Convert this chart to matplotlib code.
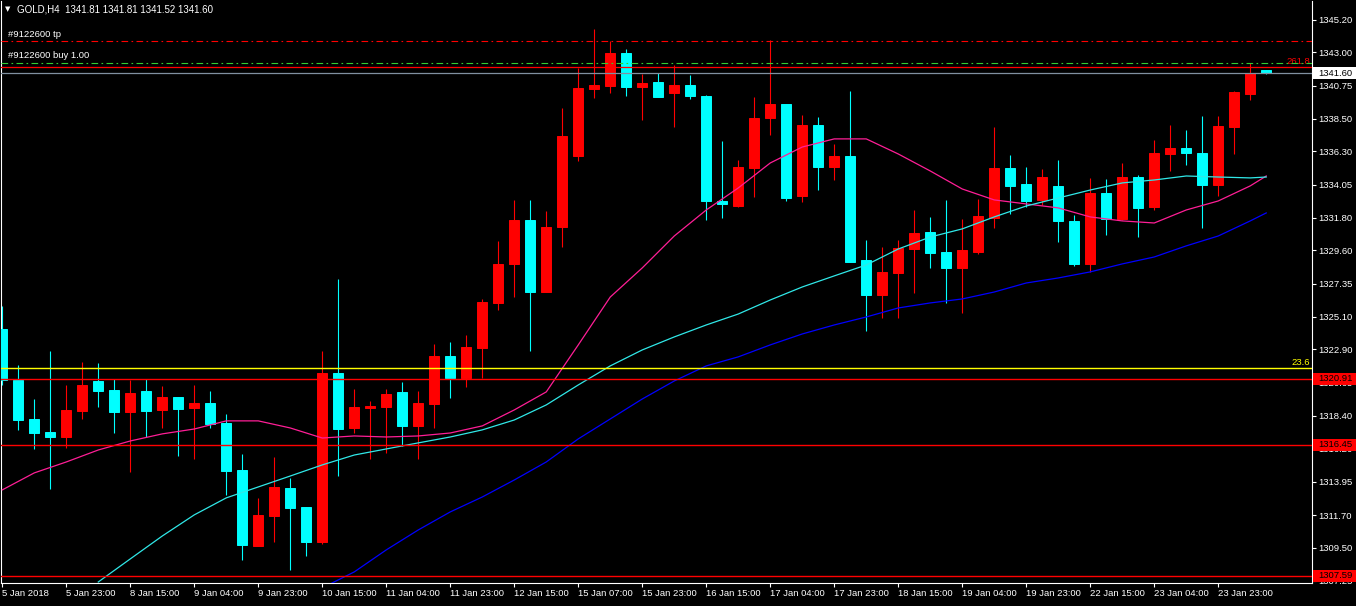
import matplotlib
matplotlib.use("Agg")
import matplotlib.pyplot as plt
import matplotlib.transforms as mtransforms
from matplotlib.patches import Rectangle
import numpy as np

plt.rcParams['font.family'] = ['Liberation Sans', 'DejaVu Sans']

# ---------------- data ----------------
header_text = "GOLD,H4  1341.81 1341.81 1341.52 1341.60"

opens = [1324.29, 1320.84, 1318.20, 1317.32, 1317.00, 1318.74, 1320.77, 1320.16, 1318.69, 1320.09,
         1318.83, 1319.69, 1318.97, 1319.28, 1317.93, 1314.75, 1309.63, 1311.66, 1313.53, 1312.25,
         1309.90, 1321.31, 1317.61, 1318.94, 1319.01, 1320.03, 1317.73, 1319.24, 1322.46, 1320.97,
         1323.02, 1326.07, 1328.71, 1331.66, 1326.81, 1331.21, 1336.02, 1340.55, 1340.75, 1342.96,
         1340.68, 1341.00, 1340.28, 1340.80, 1340.05, 1332.97, 1332.63, 1335.20, 1338.59, 1339.51,
         1333.31, 1338.09, 1335.27, 1336.00, 1328.96, 1326.61, 1328.10, 1329.72, 1330.85, 1329.50,
         1328.44, 1329.52, 1331.82, 1335.18, 1334.10, 1333.04, 1333.97, 1331.60, 1328.71, 1333.49,
         1331.75, 1334.57, 1332.56, 1336.15, 1336.54, 1336.20, 1334.05, 1337.98, 1340.21, 1341.81]

highs = [1325.85, 1321.85, 1319.55, 1322.80, 1320.50, 1322.06, 1321.99, 1320.91, 1320.84, 1320.91,
         1320.43, 1319.69, 1320.50, 1320.09, 1318.54, 1315.83, 1312.86, 1315.63, 1314.21, 1312.25,
         1322.80, 1327.67, 1320.23, 1319.42, 1320.23, 1320.70, 1320.09, 1323.27, 1323.41, 1323.88,
         1326.32, 1330.24, 1333.02, 1333.02, 1332.27, 1339.24, 1341.95, 1344.59, 1343.78, 1343.23,
         1341.54, 1341.61, 1342.15, 1341.48, 1340.12, 1337.01, 1335.72, 1339.99, 1343.84, 1339.51,
         1338.77, 1338.63, 1336.81, 1340.39, 1330.31, 1329.84, 1330.31, 1332.34, 1331.87, 1333.02,
         1331.73, 1333.09, 1337.96, 1336.06, 1335.25, 1335.12, 1335.72, 1332.00, 1334.51, 1334.44,
         1335.52, 1334.71, 1337.08, 1338.09, 1337.75, 1338.70, 1338.70, 1340.39, 1342.27, 1341.81]

lows = [1320.50, 1317.48, 1316.17, 1313.46, 1316.26, 1318.20, 1319.01, 1317.25, 1314.63, 1316.98,
        1317.61, 1315.72, 1315.49, 1317.61, 1313.08, 1308.68, 1309.63, 1309.90, 1308.00, 1308.95,
        1309.76, 1314.36, 1317.27, 1315.51, 1315.92, 1316.39, 1315.51, 1317.61, 1319.62, 1320.37,
        1320.97, 1325.60, 1326.48, 1322.82, 1326.81, 1329.86, 1335.68, 1339.94, 1340.28, 1340.07,
        1338.45, 1340.01, 1337.98, 1339.87, 1331.69, 1331.82, 1332.56, 1333.24, 1337.44, 1332.97,
        1332.90, 1333.71, 1334.39, 1328.84, 1324.15, 1325.05, 1325.05, 1326.75, 1328.44, 1326.07,
        1325.39, 1329.38, 1331.14, 1332.05, 1332.56, 1332.70, 1330.20, 1328.57, 1328.17, 1330.67,
        1331.69, 1330.53, 1332.36, 1335.00, 1335.41, 1331.14, 1333.31, 1336.15, 1339.80, 1341.52]

closes = [1320.84, 1318.15, 1317.27, 1317.00, 1318.81, 1320.50, 1320.12, 1318.69, 1319.96, 1318.76,
          1319.69, 1318.90, 1319.28, 1317.88, 1314.68, 1309.70, 1311.71, 1313.60, 1312.20, 1309.90,
          1321.31, 1317.54, 1319.01, 1319.08, 1319.89, 1317.73, 1319.28, 1322.46, 1320.97, 1323.07,
          1326.12, 1328.69, 1331.66, 1326.81, 1331.19, 1337.35, 1340.60, 1340.80, 1342.96, 1340.68,
          1340.93, 1340.01, 1340.80, 1340.07, 1332.97, 1332.77, 1335.25, 1338.57, 1339.51, 1333.17,
          1338.09, 1335.27, 1336.00, 1328.84, 1326.61, 1328.15, 1329.77, 1330.79, 1329.45, 1328.44,
          1329.63, 1331.94, 1335.18, 1333.99, 1332.97, 1334.57, 1331.62, 1328.71, 1333.49, 1331.71,
          1334.57, 1332.50, 1336.20, 1336.54, 1336.22, 1334.05, 1338.02, 1340.33, 1341.61, 1341.60]

x_labels = ["5 Jan 2018", "5 Jan 23:00", "8 Jan 15:00", "9 Jan 04:00", "9 Jan 23:00",
            "10 Jan 15:00", "11 Jan 04:00", "11 Jan 23:00", "12 Jan 15:00", "15 Jan 07:00",
            "15 Jan 23:00", "16 Jan 15:00", "17 Jan 04:00", "17 Jan 23:00", "18 Jan 15:00",
            "19 Jan 04:00", "19 Jan 23:00", "22 Jan 15:00", "23 Jan 04:00", "23 Jan 23:00"]
x_label_bars = list(range(0, 80, 4))

y_ticks = [1345.20, 1343.00, 1340.75, 1338.50, 1336.30, 1334.05, 1331.80, 1329.60, 1327.35,
           1325.10, 1322.90, 1320.65, 1318.40, 1316.20, 1313.95, 1311.70, 1309.50, 1307.25]

# moving averages (every second bar, plus the last bar)
ma_fast_bars = list(range(0, 80, 2)) + [79]
ma_fast = [1313.40, 1314.55, 1315.29, 1316.10, 1316.71, 1317.19, 1317.52, 1318.07, 1318.07, 1317.59,
           1316.91, 1317.05, 1316.98, 1317.05, 1317.25, 1317.73, 1318.81, 1320.03, 1323.21, 1326.45,
           1328.42, 1330.58, 1332.34, 1333.83, 1335.52, 1336.60, 1337.15, 1337.15, 1336.13, 1334.98,
           1333.76, 1333.02, 1332.75, 1332.48, 1331.87, 1331.60, 1331.46, 1332.34, 1332.95, 1333.97,
           1334.64]
ma_mid_bars = list(range(6, 80, 2)) + [79]
ma_mid = [1307.17, 1308.73, 1310.28, 1311.71, 1312.86, 1313.60, 1314.34, 1315.09, 1315.76, 1316.17,
          1316.58, 1316.98, 1317.46, 1318.13, 1319.15, 1320.50, 1321.79, 1322.87, 1323.75, 1324.56,
          1325.30, 1326.25, 1327.13, 1327.88, 1328.62, 1329.70, 1330.51, 1331.06, 1331.87, 1332.61,
          1333.15, 1333.69, 1334.17, 1334.37, 1334.64, 1334.57, 1334.51, 1334.57]
ma_slow_bars = list(range(20, 80, 2)) + [79]
ma_slow = [1306.77, 1307.85, 1309.34, 1310.69, 1311.91, 1312.92, 1314.07, 1315.29, 1316.85, 1318.20,
           1319.55, 1320.77, 1321.79, 1322.40, 1323.21, 1323.95, 1324.56, 1325.10, 1325.71, 1326.05,
           1326.32, 1326.79, 1327.40, 1327.74, 1328.15, 1328.69, 1329.16, 1329.91, 1330.58, 1331.60,
           1332.14]

tp_level = 1343.74
tp_label = "#9122600 tp"
buy_level = 1342.31
buy_label = "#9122600 buy 1.00"
fib_high_level = 1342.02
fib_high_label = "261.8"
bid_level = 1341.60
fib_low_level = 1321.63
fib_low_label = "23.6"
red_levels = [1320.91, 1316.45, 1307.59]

# ---------------- figure ----------------
W, H = 1356, 606
fig = plt.figure(figsize=(W / 100, H / 100), dpi=100, facecolor='black')
ax = fig.add_axes([1 / W, 23 / H, 1311 / W, 582 / H], facecolor='black')

ax.set_xlim(-0.08, 81.86)
ax.set_ylim(1307.10, 1346.48)

o = np.array(opens); c = np.array(closes); h = np.array(highs); l = np.array(lows)
x = np.arange(len(o))
bull = c >= o
cols = np.where(bull, '#FF0000', '#00FFFF')

ax.vlines(x, l, h, colors=cols, linewidth=0.8, zorder=2)
ax.bar(x, np.abs(c - o), bottom=np.minimum(o, c), width=0.63, color=cols,
       edgecolor=cols, linewidth=0.7, zorder=3)

# moving averages
ax.plot(ma_fast_bars, ma_fast, color='#FF1E96', lw=0.9, zorder=4)
ax.plot(ma_mid_bars, ma_mid, color='#30E8E8', lw=0.9, zorder=4)
ax.plot(ma_slow_bars, ma_slow, color='#0000FF', lw=0.9, zorder=4)

# horizontal levels
ax.axhline(tp_level, color='#FF0000', lw=0.8, dashes=(6, 3, 1.5, 3), zorder=5)
ax.axhline(buy_level, color='#32CD32', lw=0.8, dashes=(6, 3, 1.5, 3), zorder=5)
ax.axhline(fib_high_level, color='#FF0000', lw=0.9, zorder=5)
ax.axhline(bid_level, color='#8090A0', lw=0.9, zorder=5)
ax.axhline(fib_low_level, color='#FFFF00', lw=1.0, zorder=5)
for lv in red_levels:
    ax.axhline(lv, color='#FF0000', lw=1.0, zorder=5)

bt = mtransforms.blended_transform_factory(ax.transAxes, ax.transData)
ax.annotate(tp_label, xy=(0.0053, tp_level), xycoords=bt, xytext=(0, 2.5),
            textcoords='offset pixels', color='white', fontsize=6.8, va='bottom', ha='left')
ax.annotate(buy_label, xy=(0.0053, buy_level), xycoords=bt, xytext=(0, 2.5),
            textcoords='offset pixels', color='white', fontsize=6.8, va='bottom', ha='left')
ax.annotate(fib_high_label, xy=(0.9985, fib_high_level), xycoords=bt, xytext=(0, 1),
            textcoords='offset pixels', color='#FF0000', fontsize=6.8, va='bottom', ha='right')
ax.annotate(fib_low_label, xy=(0.9985, fib_low_level), xycoords=bt, xytext=(0, 1),
            textcoords='offset pixels', color='#FFFF00', fontsize=6.8, va='bottom', ha='right')

# axis styling
for side in ['left', 'bottom', 'right']:
    ax.spines[side].set_color('white')
    ax.spines[side].set_linewidth(0.8)
ax.spines['top'].set_visible(False)

ax.yaxis.tick_right()
ax.set_yticks(y_ticks)
ax.set_yticklabels([f"{v:.2f}" for v in y_ticks])
ax.set_xticks(x_label_bars)
ax.set_xticklabels(x_labels)
for t in ax.get_xticklabels():
    t.set_horizontalalignment('left')
ax.tick_params(axis='both', colors='white', labelsize=6.8, length=3, width=0.8,
               direction='out')
ax.tick_params(axis='y', pad=1.5)
ax.tick_params(axis='x', pad=1)

# right-side price boxes (cover the axis labels underneath, as in the terminal)
pbt = mtransforms.blended_transform_factory(fig.transFigure, ax.transData)
box_h = 12 / 14.78
for lv, fc, tc in [(bid_level, 'white', 'black')] + [(lv, '#FF0000', 'black') for lv in red_levels]:
    ax.add_patch(Rectangle((1313 / W, lv - box_h / 2), 43 / W, box_h, transform=pbt,
                           facecolor=fc, edgecolor='none', clip_on=False, zorder=10))
    ax.text(1318 / W, lv, f"{lv:.2f}", transform=pbt, color=tc, fontsize=6.8,
            va='center', ha='left', zorder=11, clip_on=False)

# header
fig.text(5 / W, 1 - 9 / H, "\u25BC", color='white', fontsize=5, va='center', ha='left',
         family='DejaVu Sans')
fig.text(17 / W, 1 - 9 / H, header_text, color='white', fontsize=7, va='center', ha='left')

fig.savefig("out.png", dpi=100, facecolor='black')
